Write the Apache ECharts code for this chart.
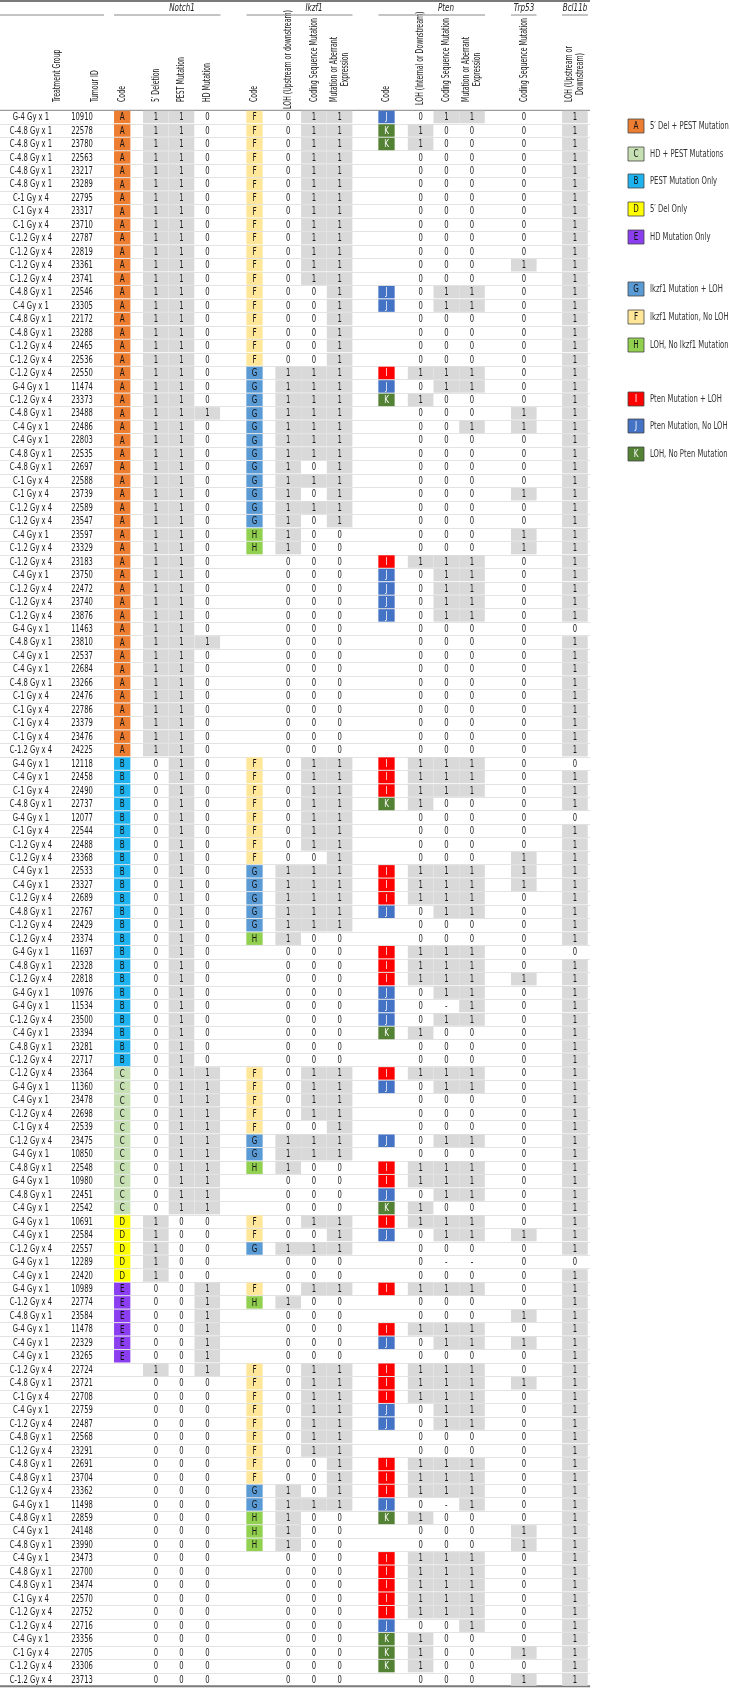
<!DOCTYPE html>
<html><head><meta charset="utf-8">
<script src="https://cdn.jsdelivr.net/npm/echarts@6/dist/echarts.min.js"></script>
<style>html,body{margin:0;padding:0;background:#fff}#c{width:730px;height:1688px}</style>
</head><body><div id="c"></div><script>
// ---------------- DATA ----------------
const treatmentGroups = [
"G-4 Gy x 1","C-4.8 Gy x 1","C-4.8 Gy x 1","C-4.8 Gy x 1","C-4.8 Gy x 1","C-4.8 Gy x 1","C-1 Gy x 4","C-1 Gy x 4","C-1 Gy x 4","C-1.2 Gy x 4",
"C-1.2 Gy x 4","C-1.2 Gy x 4","C-1.2 Gy x 4","C-4.8 Gy x 1","C-4 Gy x 1","C-4.8 Gy x 1","C-4.8 Gy x 1","C-1.2 Gy x 4","C-1.2 Gy x 4","C-1.2 Gy x 4",
"G-4 Gy x 1","C-1.2 Gy x 4","C-4.8 Gy x 1","C-4 Gy x 1","C-4 Gy x 1","C-4.8 Gy x 1","C-4.8 Gy x 1","C-1 Gy x 4","C-1 Gy x 4","C-1.2 Gy x 4",
"C-1.2 Gy x 4","C-4 Gy x 1","C-1.2 Gy x 4","C-1.2 Gy x 4","C-4 Gy x 1","C-1.2 Gy x 4","C-1.2 Gy x 4","C-1.2 Gy x 4","G-4 Gy x 1","C-4.8 Gy x 1",
"C-4 Gy x 1","C-4 Gy x 1","C-4.8 Gy x 1","C-1 Gy x 4","C-1 Gy x 4","C-1 Gy x 4","C-1 Gy x 4","C-1.2 Gy x 4","G-4 Gy x 1","C-4 Gy x 1",
"C-1 Gy x 4","C-4.8 Gy x 1","G-4 Gy x 1","C-1 Gy x 4","C-1.2 Gy x 4","C-1.2 Gy x 4","C-4 Gy x 1","C-4 Gy x 1","C-1.2 Gy x 4","C-4.8 Gy x 1",
"C-1.2 Gy x 4","C-1.2 Gy x 4","G-4 Gy x 1","C-4.8 Gy x 1","C-1.2 Gy x 4","G-4 Gy x 1","G-4 Gy x 1","C-1.2 Gy x 4","C-4 Gy x 1","C-4.8 Gy x 1",
"C-1.2 Gy x 4","C-1.2 Gy x 4","G-4 Gy x 1","C-4 Gy x 1","C-1.2 Gy x 4","C-1 Gy x 4","C-1.2 Gy x 4","G-4 Gy x 1","C-4.8 Gy x 1","G-4 Gy x 1",
"C-4.8 Gy x 1","C-4 Gy x 1","G-4 Gy x 1","C-4 Gy x 1","C-1.2 Gy x 4","G-4 Gy x 1","C-4 Gy x 1","G-4 Gy x 1","C-1.2 Gy x 4","C-4.8 Gy x 1",
"G-4 Gy x 1","C-4 Gy x 1","C-4 Gy x 1","C-1.2 Gy x 4","C-4.8 Gy x 1","C-1 Gy x 4","C-4 Gy x 1","C-1.2 Gy x 4","C-4.8 Gy x 1","C-1.2 Gy x 4",
"C-4.8 Gy x 1","C-4.8 Gy x 1","C-1.2 Gy x 4","G-4 Gy x 1","C-4.8 Gy x 1","C-4 Gy x 1","C-4.8 Gy x 1","C-4 Gy x 1","C-4.8 Gy x 1","C-4.8 Gy x 1",
"C-1 Gy x 4","C-1.2 Gy x 4","C-1.2 Gy x 4","C-4 Gy x 1","C-1 Gy x 4","C-1.2 Gy x 4","C-1.2 Gy x 4"];

const tumourIds = [
"10910","22578","23780","22563","23217","23289","22795","23317","23710","22787",
"22819","23361","23741","22546","23305","22172","23288","22465","22536","22550",
"11474","23373","23488","22486","22803","22535","22697","22588","23739","22589",
"23547","23597","23329","23183","23750","22472","23740","23876","11463","23810",
"22537","22684","23266","22476","22786","23379","23476","24225","12118","22458",
"22490","22737","12077","22544","22488","23368","22533","23327","22689","22767",
"22429","23374","11697","22328","22818","10976","11534","23500","23394","23281",
"22717","23364","11360","23478","22698","22539","23475","10850","22548","10980",
"22451","22542","10691","22584","22557","12289","22420","10989","22774","23584",
"11478","22329","23265","22724","23721","22708","22759","22487","22568","23291",
"22691","23704","23362","11498","22859","24148","23990","23473","22700","23474",
"22570","22752","22716","23356","22705","23306","23713"];

const notchCode = [
'A','A','A','A','A','A','A','A','A','A',
'A','A','A','A','A','A','A','A','A','A',
'A','A','A','A','A','A','A','A','A','A',
'A','A','A','A','A','A','A','A','A','A',
'A','A','A','A','A','A','A','A','B','B',
'B','B','B','B','B','B','B','B','B','B',
'B','B','B','B','B','B','B','B','B','B',
'B','C','C','C','C','C','C','C','C','C',
'C','C','D','D','D','D','D','E','E','E',
'E','E','E','','','','','','','',
'','','','','','','','','','',
'','','','','','',''];
const notch5Deletion = [
1,1,1,1,1,1,1,1,1,1, 1,1,1,1,1,1,1,1,1,1, 1,1,1,1,1,1,1,1,1,1, 1,1,1,1,1,1,1,1,1,1,
1,1,1,1,1,1,1,1,0,0, 0,0,0,0,0,0,0,0,0,0, 0,0,0,0,0,0,0,0,0,0, 0,0,0,0,0,0,0,0,0,0,
0,0,1,1,1,1,1,0,0,0, 0,0,0,1,0,0,0,0,0,0, 0,0,0,0,0,0,0,0,0,0, 0,0,0,0,0,0,0];
const notchPest = [
1,1,1,1,1,1,1,1,1,1, 1,1,1,1,1,1,1,1,1,1, 1,1,1,1,1,1,1,1,1,1, 1,1,1,1,1,1,1,1,1,1,
1,1,1,1,1,1,1,1,1,1, 1,1,1,1,1,1,1,1,1,1, 1,1,1,1,1,1,1,1,1,1, 1,1,1,1,1,1,1,1,1,1,
1,1,0,0,0,0,0,0,0,0, 0,0,0,0,0,0,0,0,0,0, 0,0,0,0,0,0,0,0,0,0, 0,0,0,0,0,0,0];
const notchHD = [
0,0,0,0,0,0,0,0,0,0, 0,0,0,0,0,0,0,0,0,0, 0,0,1,0,0,0,0,0,0,0, 0,0,0,0,0,0,0,0,0,1,
0,0,0,0,0,0,0,0,0,0, 0,0,0,0,0,0,0,0,0,0, 0,0,0,0,0,0,0,0,0,0, 0,1,1,1,1,1,1,1,1,1,
1,1,0,0,0,0,0,1,1,1, 1,1,1,1,0,0,0,0,0,0, 0,0,0,0,0,0,0,0,0,0, 0,0,0,0,0,0,0];

const ikzfCode = [
'F','F','F','F','F','F','F','F','F','F',
'F','F','F','F','F','F','F','F','F','G',
'G','G','G','G','G','G','G','G','G','G',
'G','H','H','','','','','','','',
'','','','','','','','','F','F',
'F','F','F','F','F','F','G','G','G','G',
'G','H','','','','','','','','',
'','F','F','F','F','F','G','G','H','',
'','','F','F','G','','','F','H','',
'','','','F','F','F','F','F','F','F',
'F','F','G','G','H','H','H','','','',
'','','','','','',''];
const ikzfLOH = [
0,0,0,0,0,0,0,0,0,0, 0,0,0,0,0,0,0,0,0,1, 1,1,1,1,1,1,1,1,1,1, 1,1,1,0,0,0,0,0,0,0,
0,0,0,0,0,0,0,0,0,0, 0,0,0,0,0,0,1,1,1,1, 1,1,0,0,0,0,0,0,0,0, 0,0,0,0,0,0,1,1,1,0,
0,0,0,0,1,0,0,0,1,0, 0,0,0,0,0,0,0,0,0,0, 0,0,1,1,1,1,1,0,0,0, 0,0,0,0,0,0,0];
const ikzfCDS = [
1,1,1,1,1,1,1,1,1,1, 1,1,1,0,0,0,0,0,0,1, 1,1,1,1,1,1,0,1,0,1, 0,0,0,0,0,0,0,0,0,0,
0,0,0,0,0,0,0,0,1,1, 1,1,1,1,1,0,1,1,1,1, 1,0,0,0,0,0,0,0,0,0, 0,1,1,1,1,0,1,1,0,0,
0,0,1,0,1,0,0,1,0,0, 0,0,0,1,1,1,1,1,1,1, 0,0,0,1,0,0,0,0,0,0, 0,0,0,0,0,0,0];
const ikzfMutAberrant = [
1,1,1,1,1,1,1,1,1,1, 1,1,1,1,1,1,1,1,1,1, 1,1,1,1,1,1,1,1,1,1, 1,0,0,0,0,0,0,0,0,0,
0,0,0,0,0,0,0,0,1,1, 1,1,1,1,1,1,1,1,1,1, 1,0,0,0,0,0,0,0,0,0, 0,1,1,1,1,1,1,1,0,0,
0,0,1,1,1,0,0,1,0,0, 0,0,0,1,1,1,1,1,1,1, 1,1,1,1,0,0,0,0,0,0, 0,0,0,0,0,0,0];

const ptenCode = [
'J','K','K','','','','','','','',
'','','','J','J','','','','','I',
'J','K','','','','','','','','',
'','','','I','J','J','J','J','','',
'','','','','','','','','I','I',
'I','K','','','','','I','I','I','J',
'','','I','I','I','J','J','J','K','',
'','I','J','','','','J','','I','I',
'J','K','I','J','','','','I','','',
'I','J','','I','I','I','J','J','','',
'I','I','I','J','K','','','I','I','I',
'I','I','J','K','K','K',''];
const ptenLOH = [
0,1,1,0,0,0,0,0,0,0, 0,0,0,0,0,0,0,0,0,1, 0,1,0,0,0,0,0,0,0,0, 0,0,0,1,0,0,0,0,0,0,
0,0,0,0,0,0,0,0,1,1, 1,1,0,0,0,0,1,1,1,0, 0,0,1,1,1,0,0,0,1,0, 0,1,0,0,0,0,0,0,1,1,
0,1,1,0,0,0,0,1,0,0, 1,0,0,1,1,1,0,0,0,0, 1,1,1,0,1,0,0,1,1,1, 1,1,0,1,1,1,0];
const ptenCDS = [
1,0,0,0,0,0,0,0,0,0, 0,0,0,1,1,0,0,0,0,1, 1,0,0,0,0,0,0,0,0,0, 0,0,0,1,1,1,1,1,0,0,
0,0,0,0,0,0,0,0,1,1, 1,0,0,0,0,0,1,1,1,1, 0,0,1,1,1,1,'-',1,0,0, 0,1,1,0,0,0,1,0,1,1,
1,0,1,1,0,'-',0,1,0,0, 1,1,0,1,1,1,1,1,0,0, 1,1,1,'-',0,0,0,1,1,1, 1,1,0,0,0,0,0];
const ptenMutAberrant = [
1,0,0,0,0,0,0,0,0,0, 0,0,0,1,1,0,0,0,0,1, 1,0,0,1,0,0,0,0,0,0, 0,0,0,1,1,1,1,1,0,0,
0,0,0,0,0,0,0,0,1,1, 1,0,0,0,0,0,1,1,1,1, 0,0,1,1,1,1,1,1,0,0, 0,1,1,0,0,0,1,0,1,1,
1,0,1,1,0,'-',0,1,0,0, 1,1,0,1,1,1,1,1,0,0, 1,1,1,1,0,0,0,1,1,1, 1,1,1,0,0,0,0];

const trp53CDS = [
0,0,0,0,0,0,0,0,0,0, 0,1,0,0,0,0,0,0,0,0, 0,0,1,1,0,0,0,0,1,0, 0,1,1,0,0,0,0,0,0,0,
0,0,0,0,0,0,0,0,0,0, 0,0,0,0,0,1,1,1,0,0, 0,0,0,0,1,0,0,0,0,0, 0,0,0,0,0,0,0,0,0,0,
0,0,0,1,0,0,0,0,0,1, 0,1,0,0,1,0,0,0,0,0, 0,0,0,0,0,1,1,0,0,0, 0,0,0,0,1,0,1];
const bcl11bLOH = [
1,1,1,1,1,1,1,1,1,1, 1,1,1,1,1,1,1,1,1,1, 1,1,1,1,1,1,1,1,1,1, 1,1,1,1,1,1,1,1,0,1,
1,1,1,1,1,1,1,1,0,1, 1,1,0,1,1,1,1,1,1,1, 1,1,0,1,1,1,1,1,1,1, 1,1,1,1,1,1,1,1,1,1,
1,1,1,1,1,0,1,1,1,1, 1,1,1,1,1,1,1,1,1,1, 1,1,1,1,1,1,1,1,1,1, 1,1,1,1,1,1,1];

const geneLabels = ['Notch1','Ikzf1','Pten','Trp53','Bcl11b'];
const legendCodes = ['A','C','B','D','E','G','F','H','I','J','K'];
const legendLabels = ['5\u2032 Del + PEST Mutation','HD + PEST Mutations','PEST Mutation Only','5\u2032 Del Only','HD Mutation Only',
  'Ikzf1 Mutation + LOH','Ikzf1 Mutation, No LOH','LOH, No Ikzf1 Mutation',
  'Pten Mutation + LOH','Pten Mutation, No LOH','LOH, No Pten Mutation'];

// ---------------- LAYOUT / STYLE ----------------
const FONT = "'Liberation Sans Narrow','DejaVu Sans Condensed','Roboto Condensed','Liberation Sans',sans-serif";
const BODY_FONT = '10px ' + FONT;
const CODE_FONT = '10.5px ' + FONT;
const HEAD_FONT = '10.5px ' + FONT;
const GENE_FONT = 'italic 10.5px ' + FONT;
const SQ = 0.76;            // horizontal squeeze to mimic the condensed typeface
const SQ_HEAD = 0.66;
const TABLE_W = 590, TOP = 110.3, ROW_H = 13.47;
const CELL_W = 25.6, CODE_W = 16.3, GRAY = '#d9d9d9';
const CODE_COLORS = {A:'#ED7D31',B:'#1EB3EE',C:'#C6E0B4',D:'#FFFF00',E:'#8B3DF0',F:'#FFE699',G:'#5B9BD5',H:'#92D050',I:'#FF0000',J:'#4472C4',K:'#548235'};
const CODE_TEXT = {A:'#111',B:'#111',C:'#111',D:'#111',E:'#111',F:'#111',G:'#111',H:'#111',I:'#fff',J:'#fff',K:'#fff'};

const COLUMNS = [
  {src:treatmentGroups, x:31,    kind:'text', head:'Treatment Group', hx:57},
  {src:tumourIds,       x:82,    kind:'text', head:'Tumour ID', hx:95},
  {src:notchCode,       x:122.2, kind:'code', head:'Code'},
  {src:notch5Deletion,  x:155.8, kind:'bin',  head:'5\u2032 Deletion'},
  {src:notchPest,       x:181.5, kind:'bin',  head:'PEST Mutation'},
  {src:notchHD,         x:207.3, kind:'bin',  head:'HD Mutation'},
  {src:ikzfCode,        x:254.5, kind:'code', head:'Code'},
  {src:ikzfLOH,         x:288.2, kind:'bin',  head:'LOH (Upstream or downstream)', hb:109},
  {src:ikzfCDS,         x:313.9, kind:'bin',  head:'Coding Sequence Mutation'},
  {src:ikzfMutAberrant, x:339.6, kind:'bin',  head:'Mutation or Aberrant\nExpression'},
  {src:ptenCode,        x:386.5, kind:'code', head:'Code'},
  {src:ptenLOH,         x:420.6, kind:'bin',  head:'LOH (Internal or Downstream)', hb:105},
  {src:ptenCDS,         x:446.3, kind:'bin',  head:'Coding Sequence Mutation'},
  {src:ptenMutAberrant, x:472.0, kind:'bin',  head:'Mutation or Aberrant\nExpression'},
  {src:trp53CDS,        x:523.8, kind:'bin',  head:'Coding Sequence Mutation'},
  {src:bcl11bLOH,       x:574.9, kind:'bin',  head:'LOH (Upstream or\nDownstream)'}
];
const GENE_SPANS = [[null,0,104],[geneLabels[0],114,220.5],[geneLabels[1],246.5,352.5],[geneLabels[2],378.5,485],[geneLabels[3],511,536.5],[geneLabels[4],562,588]];
const GENE_LABEL_X = [null,182,314,446,524,575];
const LEGEND_Y = [126,154,181,209,237,289,317,345,399,426,454];

// ---------------- BUILD ----------------
const cells = [];
COLUMNS.forEach(col => col.src.forEach((v, i) => cells.push({x: col.x, row: i, val: v, kind: col.kind})));

function txt(t, x, y, font, fill, align, extra) {
  const el = {type:'text', x:x, y:y, scaleX:SQ, style:{text:t, x:0, y:0, font:font, fill:fill,
    align:align||'center', verticalAlign:'middle', textAlign:align||'center', textVerticalAlign:'middle'}};
  return Object.assign(el, extra || {});
}
function renderItem(params, api) {
  const c = cells[params.dataIndex];
  const p = api.coord([api.value(0), api.value(1)]);
  const h = api.size([0, 1])[1];
  const kids = [];
  if (c.kind === 'bin') {
    if (c.val === 1) kids.push({type:'rect', shape:{x:p[0]-CELL_W/2, y:p[1]-h/2+0.5, width:CELL_W, height:h-1}, style:{fill:GRAY}});
    kids.push(txt(String(c.val), p[0], p[1]+0.5, BODY_FONT, '#1a1a1a'));
  } else if (c.kind === 'code') {
    if (c.val) {
      kids.push({type:'rect', shape:{x:p[0]-CODE_W/2, y:p[1]-h/2+0.5, width:CODE_W, height:h-1}, style:{fill:CODE_COLORS[c.val]}});
      kids.push(txt(c.val, p[0], p[1]+0.5, CODE_FONT, CODE_TEXT[c.val]));
    }
  } else {
    kids.push(txt(String(c.val), p[0], p[1]+0.5, BODY_FONT, '#1a1a1a'));
  }
  return {type:'group', children:kids};
}

const chart = echarts.init(document.getElementById('c'), null, {renderer:'canvas'});
const nRows = tumourIds.length;
chart.setOption({
  animation:false,
  backgroundColor:'#fff',
  grid:{left:0, top:TOP, width:TABLE_W, height:nRows*ROW_H},
  xAxis:{type:'value', min:0, max:TABLE_W, show:false},
  yAxis:{type:'category', data:tumourIds, inverse:true,
    axisLine:{show:false}, axisTick:{show:false}, axisLabel:{show:false},
    splitLine:{show:true, interval:0, lineStyle:{color:'#e3e3e3', width:1}}},
  series:[{type:'custom', renderItem:renderItem, clip:false,
    data:cells.map(c => [c.x, c.row])}]
});

// ---------- header, rules & legend (graphic) ----------
const measure = document.createElement('canvas').getContext('2d');
measure.font = HEAD_FONT;
const px = v => chart.convertToPixel({xAxisIndex:0}, v);
const g = [];
const HEAD_BOTTOM = 102;
COLUMNS.forEach(col => {
  const lines = col.head.split('\n');
  const w = SQ_HEAD * Math.max.apply(null, lines.map(l => measure.measureText(l).width));
  const bottom = col.hb || HEAD_BOTTOM;
  const el = txt(col.head, px(col.hx != null ? col.hx : col.x), bottom - w/2, HEAD_FONT, '#222', 'center',
    {rotation: Math.PI/2, scaleX: SQ_HEAD, scaleY: 1});
  el.style.lineHeight = 10.5;
  g.push(el);
});
GENE_SPANS.forEach((s, i) => {
  g.push({type:'line', shape:{x1:px(s[1]), y1:15, x2:px(s[2]), y2:15}, style:{stroke:'#8a8a8a', lineWidth:1}});
  if (s[0]) g.push(txt(s[0], px(GENE_LABEL_X[i]), 8, GENE_FONT, '#222', 'center'));
});
g.push({type:'line', shape:{x1:0, y1:1, x2:px(TABLE_W), y2:1}, style:{stroke:'#7a7a7a', lineWidth:2}});
g.push({type:'line', shape:{x1:0, y1:TOP, x2:px(TABLE_W), y2:TOP}, style:{stroke:'#8a8a8a', lineWidth:1}});
const bottomY = TOP + nRows*ROW_H;
g.push({type:'line', shape:{x1:0, y1:bottomY, x2:px(TABLE_W), y2:bottomY}, style:{stroke:'#7a7a7a', lineWidth:2}});
legendCodes.forEach((code, i) => {
  const y = LEGEND_Y[i];
  g.push({type:'rect', shape:{x:628, y:y-7, width:16, height:14}, style:{fill:CODE_COLORS[code], stroke:'#444', lineWidth:0.8}});
  g.push(txt(code, 636, y+0.5, CODE_FONT, CODE_TEXT[code], 'center'));
  g.push(txt(legendLabels[i], 650, y+0.5, '10px ' + FONT, '#333', 'left'));
});
chart.setOption({graphic:{elements:g}});
</script></body></html>
